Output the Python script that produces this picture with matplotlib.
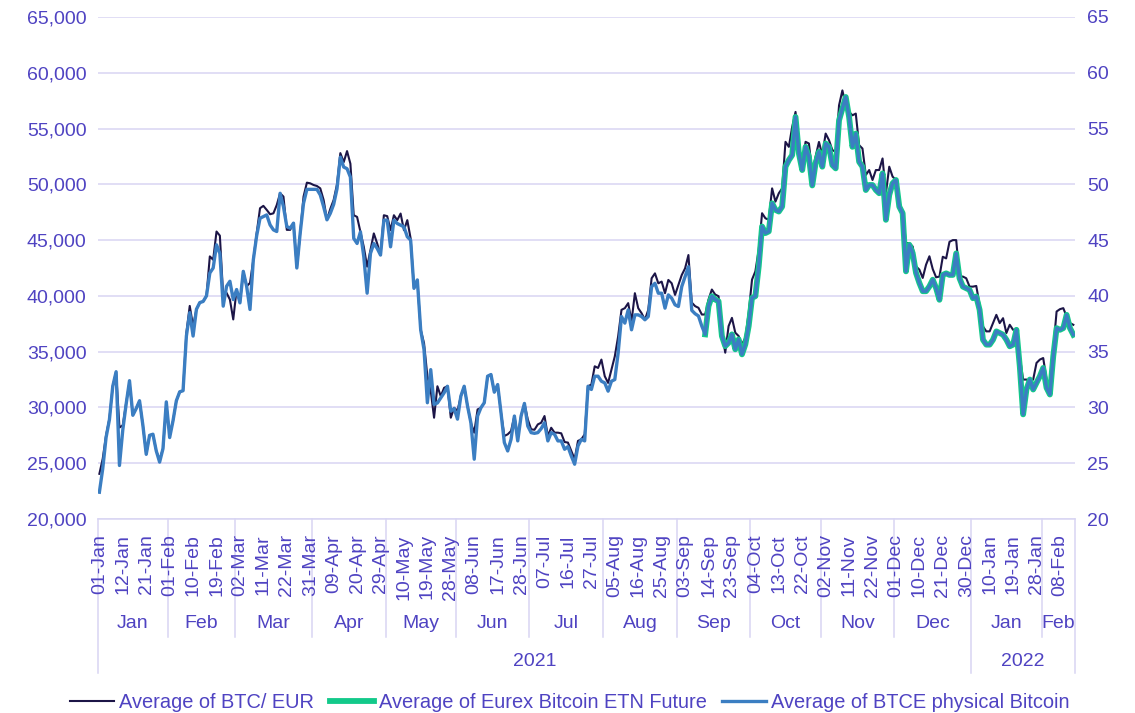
import numpy as np
import pandas as pd
import matplotlib
matplotlib.use("Agg")
import matplotlib.pyplot as plt
import matplotlib.transforms as mtransforms

plt.rcParams['font.family'] = ['Liberation Sans', 'DejaVu Sans']

# ---------------- data ----------------
dates = pd.bdate_range('2021-01-01', '2022-02-14')

btc_eur = [
    24050, 25400, 27500, 29000, 31900, 33200, 28200, 28400, 30400, 32300,
    29300, 29900, 30600, 28400, 25800, 27500, 27600, 26100, 25300, 26300,
    30300, 27500, 28800, 30600, 31400, 31500, 36700, 39100, 37300, 38800,
    39400, 39500, 40000, 43540, 43240, 45770, 45400, 39970, 40270, 39670,
    37890, 40570, 39375, 42200, 40860, 41160, 43240, 45630, 47860, 48070,
    47710, 47320, 47400, 48150, 49200, 48900, 45920, 45920, 46520, 42500,
    45630, 48900, 50150, 50090, 49940, 49850, 49640, 48600, 46820, 47800,
    48600, 50000, 52800, 51990, 52980, 51850, 47230, 47080, 45740, 44400,
    42620, 44110, 45600, 44700, 43660, 47230, 47150, 45890, 47230, 46790,
    47380, 45890, 46790, 45150, 40680, 41430, 36960, 35770, 32800, 31500,
    29080, 31900, 31010, 31760, 31900, 29080, 29970, 29700, 31010, 31900,
    30120, 28630, 27740, 29820, 29970, 30420, 32800, 32950, 31370, 32050,
    29520, 27440, 27590, 27890, 29230, 27440, 29230, 30360, 28930, 28040,
    28000, 28480, 28630, 29230, 27440, 28180, 27740, 27740, 27680, 26900,
    26850, 26100, 25360, 27000, 27140, 27590, 31900, 32050, 33690, 33540,
    34290, 32800, 32200, 33390, 34580, 36370, 38750, 38900, 39350, 37710,
    40240, 38900, 38450, 37860, 38750, 41580, 42020, 41130, 41280, 40240,
    41430, 41130, 40090, 40980, 41870, 42470, 43660, 39400, 39080, 38930,
    38330, 38330, 39670, 40570, 40120, 39970, 36700, 34910, 37290, 38030,
    36700, 36400, 35650, 36250, 38480, 41460, 42200, 44140, 47410, 46960,
    46820, 49640, 48450, 49200, 49640, 53810, 53360, 55150, 56490, 53360,
    51880, 53810, 53660, 51000, 52500, 53800, 52620, 54550, 53960, 53070,
    52920, 57080, 58420, 57080, 56490, 56190, 56340, 53510, 53210, 50830,
    51280, 50390, 51280, 51280, 52320, 49200, 51580, 50690, 50390, 48300,
    47560, 44730, 44730, 44430, 42650, 42350, 41610, 42800, 43550, 42400,
    41670, 41730, 43510, 43360, 44850, 45000, 45000, 41730, 41730, 41580,
    40830, 40830, 40890, 39200, 37260, 36820, 36820, 37560, 38300, 37560,
    38000, 36670, 37410, 36960, 36960, 34580, 32500, 32500, 32350, 32500,
    33990, 34290, 34430, 32500, 31310, 35180, 38600, 38810, 38900, 38150,
    37560, 37410,
]

btce_physical = [
    22400, 24500, 27300, 28900, 31900, 33200, 24800, 28000, 30300, 32400,
    29300, 29900, 30600, 28400, 25800, 27500, 27600, 26100, 25100, 26300,
    30500, 27300, 28800, 30600, 31400, 31500, 36400, 38500, 36400, 38800,
    39400, 39500, 40000, 42050, 42500, 44580, 43800, 39080, 40860, 41310,
    39670, 40570, 39375, 42200, 40860, 38780, 43240, 45400, 46960, 47110,
    47260, 46370, 45920, 45770, 49200, 48000, 46220, 46070, 46520, 42500,
    45630, 48300, 49550, 49550, 49550, 49550, 49050, 48000, 46820, 47400,
    48200, 49600, 52440, 51550, 51400, 50650, 45150, 44700, 45740, 43510,
    40240, 43810, 44700, 44260, 43660, 46790, 46790, 44400, 46790, 46490,
    46340, 46190, 45300, 45000, 40680, 41430, 36960, 35180, 30420, 33390,
    30270, 30400, 30860, 31310, 31900, 29670, 29900, 28950, 31010, 31900,
    30120, 28630, 25360, 29230, 29970, 30420, 32800, 32950, 31370, 32050,
    29520, 26850, 26100, 27140, 29230, 27000, 29230, 30360, 28330, 27740,
    27680, 27740, 28100, 28630, 27000, 27740, 27590, 27000, 27000, 26250,
    26490, 25650, 24910, 26550, 27140, 27000, 31900, 31610, 32800, 32800,
    32350, 32200, 31460, 32350, 32500, 34880, 38150, 37560, 38750, 36960,
    38300, 38300, 38150, 37860, 38150, 40830, 41130, 40240, 40240, 38900,
    40090, 39790, 39200, 39050, 40830, 41730, 42620, 38700, 38400, 38200,
    37290, 36550, 39080, 39970, 39670, 39520, 36400, 35500, 35800, 36550,
    35210, 36100, 34760, 35650, 37290, 39820, 39970, 42650, 46220, 45630,
    45780, 48300, 47710, 47560, 48000, 51580, 52170, 52620, 56040, 52770,
    51280, 53360, 52470, 49900, 51900, 52920, 51580, 53660, 53360, 51730,
    51430, 55740, 56790, 57830, 56040, 53360, 54550, 52020, 51580, 49490,
    49940, 49940, 49490, 49200, 50980, 46820, 49050, 50090, 50390, 48000,
    47410, 42200, 44580, 43840, 42050, 41160, 40420, 40420, 40850, 41450,
    40700, 39650, 41880, 42020, 41880, 41880, 43810, 41580, 40830, 40680,
    40540, 39790, 39940, 38750, 36070, 35630, 35630, 36070, 36820, 36670,
    36520, 36070, 35480, 35630, 36960, 33690, 29380, 31610, 32500, 31610,
    32200, 32800, 33540, 31760, 31160, 34580, 37110, 36960, 37110, 38300,
    37110, 36520,
]

# Eurex Bitcoin ETN Future: listed from 13-Sep-2021 (index 181) onwards
etn_future_start = 181
etn_future = [
    36550, 39080, 39970, 39670, 39520, 36400, 35500, 35800, 36550,
    35210, 36100, 34760, 35650, 37290, 39820, 39970, 42650, 46220, 45630,
    45780, 48300, 47710, 47560, 48000, 51580, 52170, 52620, 56040, 52770,
    51280, 53360, 52470, 49900, 51900, 52920, 51580, 53660, 53360, 51730,
    51430, 55740, 56790, 57830, 56040, 53360, 54550, 52020, 51580, 49490,
    49940, 49940, 49490, 49200, 50980, 46820, 49050, 50090, 50390, 48000,
    47410, 42200, 44580, 43840, 42050, 41160, 40420, 40420, 40850, 41450,
    40700, 39650, 41880, 42020, 41880, 41880, 43810, 41580, 40830, 40680,
    40540, 39790, 39940, 38750, 36070, 35630, 35630, 36070, 36820, 36670,
    36520, 36070, 35480, 35630, 36960, 33690, 29380, 31610, 32500, 31610,
    32200, 32800, 33540, 31760, 31160, 34580, 37110, 36960, 37110, 38300,
    37110, 36520,
]

series_labels = ['Average of BTC/ EUR',
                 'Average of Eurex Bitcoin ETN Future',
                 'Average of BTCE physical Bitcoin']
y_ticks = list(range(20000, 65001, 5000))

# ---------------- style ----------------
TXT = '#4f43c2'
GRID = '#d8d5f3'
C_BTC = '#1c1547'
C_ETN = '#12c98a'
C_BTCE = '#3b7ec2'
FS = 14

n = len(dates)
x = np.arange(n)
etn_full = np.full(n, np.nan)
etn_full[etn_future_start:etn_future_start + len(etn_future)] = etn_future

fig = plt.figure(figsize=(11.35, 7.13), dpi=100)
ax = fig.add_axes([97.7 / 1135, 1 - 519 / 713, (1075 - 97.7) / 1135, (519 - 17) / 713])

l1, = ax.plot(x, btc_eur, color=C_BTC, lw=1.5, zorder=3, label=series_labels[0])
l2, = ax.plot(x, etn_full, color=C_ETN, lw=4.2, zorder=4, label=series_labels[1],
              solid_joinstyle='round')
l3, = ax.plot(x, btce_physical, color=C_BTCE, lw=2.4, zorder=5, label=series_labels[2])

ax.set_xlim(-0.5, n - 0.5)
ax.set_ylim(20000, 65000)
ax.set_yticks(y_ticks)
ax.set_yticklabels([f'{v:,}' for v in y_ticks])
ax.yaxis.grid(True, color=GRID, lw=1.1, zorder=0)
for s in ['left', 'right', 'top']:
    ax.spines[s].set_visible(False)
ax.spines['bottom'].set_color(GRID)
ax.spines['bottom'].set_linewidth(1.1)
ax.tick_params(axis='y', length=0, pad=8, labelsize=FS, labelcolor=TXT)

# date tick labels (every 7th trading day)
tick_idx = np.arange(0, n, 7)
ax.set_xticks(tick_idx)
ax.set_xticklabels([dates[i].strftime('%d-%b') for i in tick_idx], rotation=90)
ax.tick_params(axis='x', length=0, pad=11, labelsize=FS, labelcolor=TXT)

# secondary axis
ax2 = ax.twinx()
ax2.set_ylim(20, 65)
ax2.set_yticks([v // 1000 for v in y_ticks])
ax2.tick_params(axis='y', length=0, pad=9, labelsize=FS, labelcolor=TXT)
for s in ax2.spines.values():
    s.set_visible(False)

# multi-level category axis: months and years
trans = mtransforms.blended_transform_factory(ax.transData, ax.transAxes)
ah = 519 - 17
y_month_line = -(637 - 519) / ah
y_year_line = -(673 - 519) / ah
y_month_txt = -(624 - 519) / ah
y_year_txt = -(661 - 519) / ah

periods = pd.Series(dates.to_period('M'))
month_starts = [0] + [i for i in range(1, n) if periods[i] != periods[i - 1]] + [n]
for a, b in zip(month_starts[:-1], month_starts[1:]):
    ax.text((a + b - 1) / 2, y_month_txt, dates[a].strftime('%b'), transform=trans,
            ha='center', va='center', fontsize=FS, color=TXT, clip_on=False)
years = dates.year
year_starts = [0] + [i for i in range(1, n) if years[i] != years[i - 1]] + [n]
for a, b in zip(year_starts[:-1], year_starts[1:]):
    ax.text((a + b - 1) / 2, y_year_txt, str(years[a]), transform=trans,
            ha='center', va='center', fontsize=FS, color=TXT, clip_on=False)
for i in month_starts:
    ybot = y_year_line if i in year_starts else y_month_line
    ax.plot([i - 0.5, i - 0.5], [0, ybot], transform=trans, color=GRID, lw=1.1,
            clip_on=False, zorder=1)

leg = fig.legend(handles=[l1, l2, l3], loc='center', bbox_to_anchor=(0.502, 1 - 702 / 713),
                 ncol=3, frameon=False, fontsize=14.4, handlelength=2.2, handletextpad=0.25,
                 columnspacing=0.8, borderaxespad=0)
for t in leg.get_texts():
    t.set_color(TXT)

fig.savefig('out.png', dpi=100)
